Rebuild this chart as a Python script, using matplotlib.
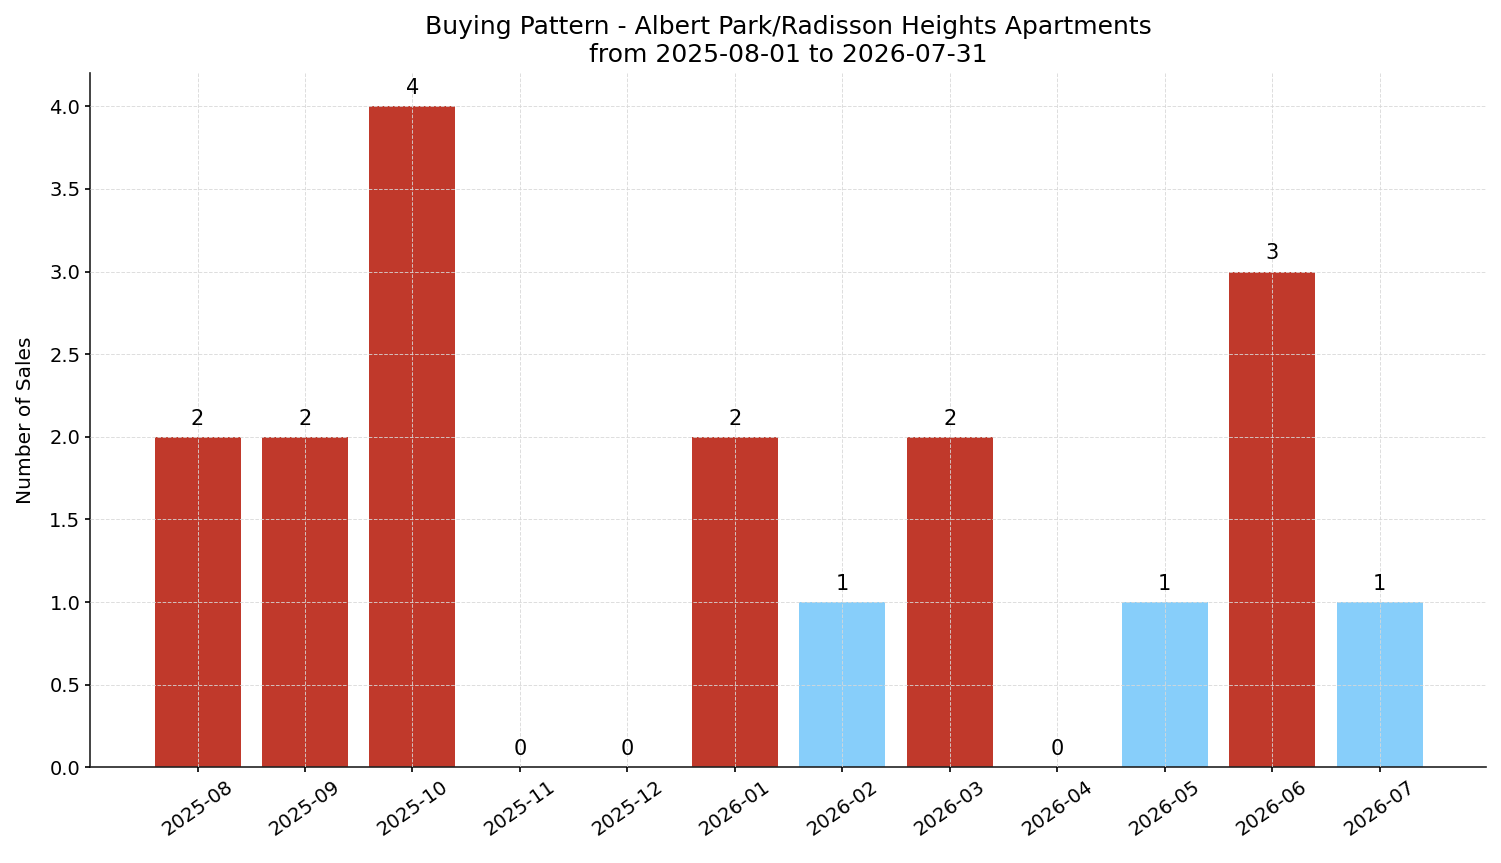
import matplotlib
matplotlib.use('Agg')
from matplotlib import pyplot as plt

months = ['2025-08', '2025-09', '2025-10', '2025-11', '2025-12', '2026-01',
          '2026-02', '2026-03', '2026-04', '2026-05', '2026-06', '2026-07']
sales = [2, 2, 4, 0, 0, 2, 1, 2, 0, 1, 3, 1]

colors = ['#c0392b' if v >= 2 else '#87cefa' for v in sales]

fig, ax = plt.subplots(figsize=(15.01, 8.63), dpi=100)
bars = ax.bar(months, sales, color=colors, width=0.8, zorder=1)
for b, v in zip(bars, sales):
    ax.text(b.get_x() + b.get_width() / 2, v + 0.05, str(v),
            ha='center', va='bottom', fontsize=15)

ax.set_title('Buying Pattern - Albert Park/Radisson Heights Apartments\nfrom 2025-08-01 to 2026-07-31',
             fontsize=18, pad=8, linespacing=1.2)
ax.set_ylabel('Number of Sales', fontsize=14.5, labelpad=10)
ax.set_ylim(0, 4.2)
ax.grid(True, color='#d8d8d8', linestyle='--', linewidth=0.7, alpha=0.85, zorder=3)
ax.set_axisbelow(False)
ax.spines['top'].set_visible(False)
ax.spines['right'].set_visible(False)
ax.spines['left'].set_linewidth(1.2)
ax.spines['bottom'].set_linewidth(1.2)
ax.spines['left'].set_color('#222222')
ax.spines['bottom'].set_color('#222222')
ax.tick_params(axis='x', labelsize=14, rotation=35, width=1.2)
ax.tick_params(axis='y', labelsize=14, width=1.2)
ax.set_xlim(-1, 11.99)

plt.subplots_adjust(left=0.06, right=0.99, top=0.915, bottom=0.111)
plt.savefig('out.png', dpi=100)
